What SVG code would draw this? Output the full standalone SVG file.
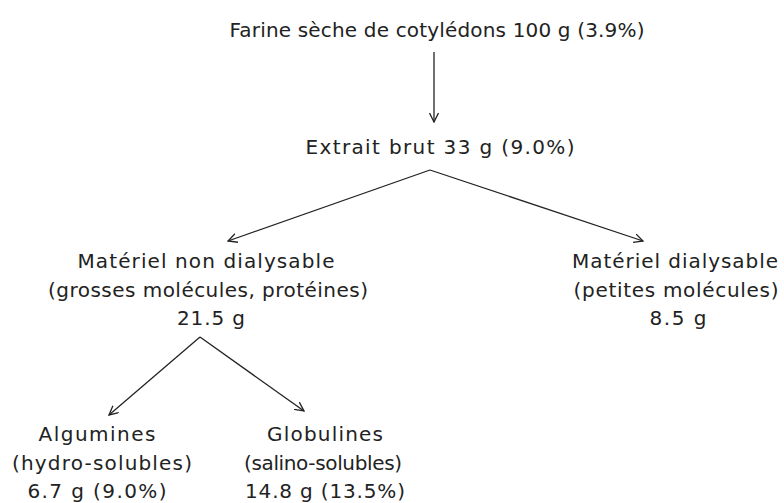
<svg xmlns="http://www.w3.org/2000/svg" width="784" height="503" viewBox="0 0 784 503">
<style>
text{font-family:"DejaVu Sans","Liberation Sans",Arial,sans-serif;font-size:20px;fill:#222;text-anchor:middle}
.c{fill:none;stroke:#222;stroke-width:1.3}
</style>
<defs>
<marker id="ah" viewBox="0 0 10 10" refX="9" refY="5" markerWidth="10" markerHeight="10" markerUnits="userSpaceOnUse" orient="auto">
<path d="M0,0.5 L9,5 L0,9.5" fill="none" stroke="#222" stroke-width="1.3"/>
</marker>
</defs>
<rect width="784" height="503" fill="#fff"/>
<g id="connectors">
<line class="c" x1="434" y1="52" x2="434" y2="122" marker-end="url(#ah)"/>
<line class="c" x1="430" y1="170" x2="228" y2="241" marker-end="url(#ah)"/>
<line class="c" x1="430" y1="170" x2="643" y2="241" marker-end="url(#ah)"/>
<line class="c" x1="200" y1="337" x2="109" y2="415" marker-end="url(#ah)"/>
<line class="c" x1="200" y1="337" x2="304" y2="411" marker-end="url(#ah)"/>
</g>
<g id="farine"><text x="437" y="37" textLength="415" lengthAdjust="spacing">Farine sèche de cotylédons 100 g (3.9%)</text></g>
<g id="extrait"><text x="440" y="154" textLength="269" lengthAdjust="spacing">Extrait brut 33 g (9.0%)</text></g>
<g id="non-dialysable">
<text x="206" y="268" textLength="257" lengthAdjust="spacing">Matériel non dialysable</text>
<text x="208" y="297" textLength="320" lengthAdjust="spacing">(grosses molécules, protéines)</text>
<text x="211" y="325" textLength="68" lengthAdjust="spacing">21.5 g</text>
</g>
<g id="dialysable">
<text x="675" y="268" textLength="206" lengthAdjust="spacing">Matériel dialysable</text>
<text x="676" y="297" textLength="205" lengthAdjust="spacing">(petites molécules)</text>
<text x="678" y="325" textLength="57" lengthAdjust="spacing">8.5 g</text>
</g>
<g id="algumines">
<text x="97" y="441" textLength="117" lengthAdjust="spacing">Algumines</text>
<text x="102" y="470" textLength="180" lengthAdjust="spacing">(hydro-solubles)</text>
<text x="97" y="498" textLength="139" lengthAdjust="spacing">6.7 g (9.0%)</text>
</g>
<g id="globulines">
<text x="325" y="441" textLength="116" lengthAdjust="spacing">Globulines</text>
<text x="323" y="470" textLength="158" lengthAdjust="spacing">(salino-solubles)</text>
<text x="325" y="498" textLength="160" lengthAdjust="spacing">14.8 g (13.5%)</text>
</g>
</svg>
